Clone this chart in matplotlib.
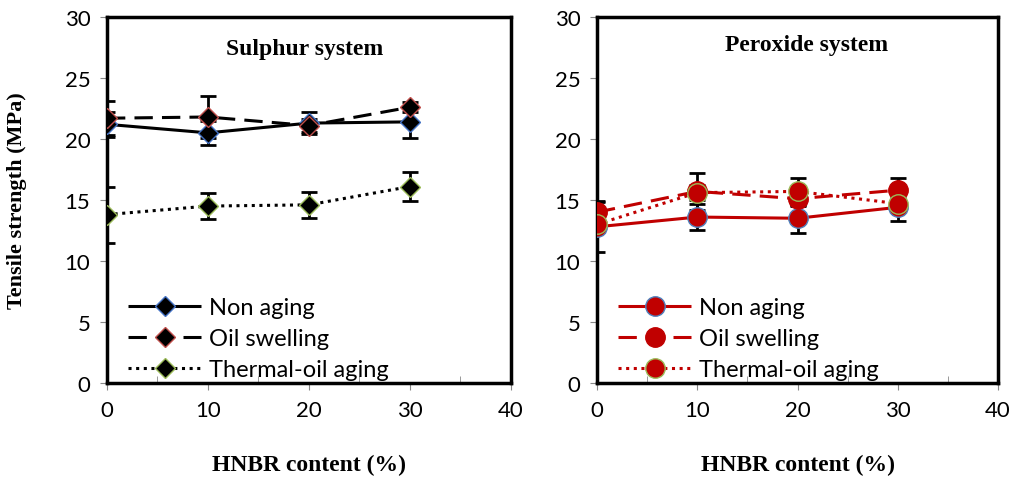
import matplotlib
matplotlib.use('Agg')
import matplotlib.pyplot as plt

# HNBR content (%)
hnbr = [0, 10, 20, 30]

# sulphur system, tensile strength (MPa) and error
s_non = [21.2, 20.5, 21.3, 21.4]
s_non_err = [1.0, 1.0, 0.9, 1.3]
s_oil = [21.7, 21.8, 21.1, 22.6]
s_oil_err = [1.4, 1.7, 0.5, 0.4]
s_therm = [13.8, 14.5, 14.6, 16.1]
s_therm_err = [2.3, 1.1, 1.05, 1.2]

# peroxide system
p_non = [12.8, 13.6, 13.5, 14.4]
p_non_err = [2.1, 1.1, 1.2, 1.1]
p_oil = [14.0, 15.7, 15.1, 15.8]
p_oil_err = [0.8, 1.5, 0.6, 1.0]
p_therm = [13.0, 15.6, 15.7, 14.7]
p_therm_err = [0.6, 0.6, 1.1, 0.5]

labels = ['Non aging', 'Oil swelling', 'Thermal-oil aging']
red = '#C00000'

fig = plt.figure(figsize=(10.16, 4.81), dpi=100)
ax1 = fig.add_axes([0.1053, 0.2017, 0.3976, 0.761])
ax2 = fig.add_axes([0.5876, 0.2017, 0.3947, 0.761])

styles = [(0, ()), (0, (6, 3)), (0, (1, 1.5))]

# sulphur panel
s_data = [(s_non, s_non_err, '#4472C4'), (s_oil, s_oil_err, '#C0504D'),
          (s_therm, s_therm_err, '#9BBB59')]
for (vals, err, edge), ls, lab in zip(s_data, styles, labels):
    ax1.errorbar(hnbr, vals, yerr=err, fmt='none', ecolor='black',
                 elinewidth=2, capsize=6, capthick=2, zorder=2)
    ax1.plot(hnbr, vals, color='black', lw=2.2, linestyle=ls, marker='D',
             markersize=10, markerfacecolor='black', markeredgecolor=edge,
             markeredgewidth=1, label=lab, zorder=3)

# peroxide panel
p_data = [(p_non, p_non_err, '#4F81BD'), (p_oil, p_oil_err, red),
          (p_therm, p_therm_err, '#9BBB59')]
for (vals, err, edge), ls, lab in zip(p_data, styles, labels):
    ax2.errorbar(hnbr, vals, yerr=err, fmt='none', ecolor='black',
                 elinewidth=2, capsize=6, capthick=2, zorder=2)
    ax2.plot(hnbr, vals, color=red, lw=2.2, linestyle=ls, marker='o',
             markersize=14, markerfacecolor=red, markeredgecolor=edge,
             markeredgewidth=1, label=lab, zorder=3)

for ax in (ax1, ax2):
    ax.set_xlim(0, 40)
    ax.set_ylim(0, 30)
    ax.set_xticks([0, 10, 20, 30, 40])
    ax.set_yticks(range(0, 31, 5))
    ax.set_xticks([5, 15, 25, 35], minor=True)
    ax.tick_params(axis='both', which='both', direction='out', length=5,
                   color='#888888', labelsize=16, pad=7)
    ax.tick_params(axis='x', which='minor', direction='in', length=5)
    for lab in ax.get_xticklabels() + ax.get_yticklabels():
        lab.set_family('Lato')
    for sp in ax.spines.values():
        sp.set_linewidth(2.5)
        sp.set_color('black')
    ax.set_xlabel('HNBR content (%)', family='Liberation Serif',
                  fontweight='bold', fontsize=17, labelpad=25)
    leg = ax.legend(loc='lower left', bbox_to_anchor=(0.0, -0.05),
                    frameon=False, handlelength=3.1,
                    handletextpad=0.3, labelspacing=0.42,
                    prop={'family': 'Lato', 'size': 17})

ax1.set_ylabel('Tensile strength (MPa)', family='Liberation Serif',
               fontweight='bold', fontsize=16, labelpad=27)
ax1.text(0.295, 0.9, 'Sulphur system', transform=ax1.transAxes,
         family='Liberation Serif', fontweight='bold', fontsize=17)
ax2.text(0.32, 0.91, 'Peroxide system', transform=ax2.transAxes,
         family='Liberation Serif', fontsize=17, fontweight='bold')

fig.savefig('out.png', dpi=100)
